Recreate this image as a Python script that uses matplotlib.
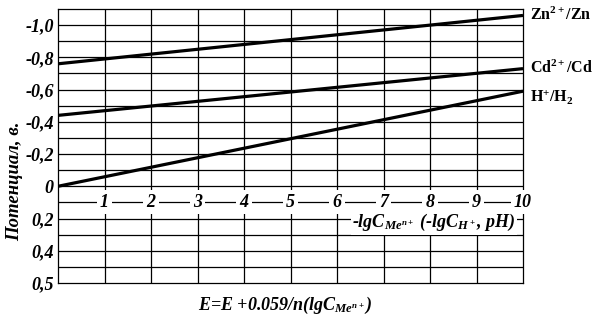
import numpy as np
import matplotlib
matplotlib.use('Agg')
import matplotlib.pyplot as plt

plt.rcParams['font.family'] = ['Liberation Serif', 'DejaVu Serif']
plt.rcParams['mathtext.fontset'] = 'custom'
plt.rcParams['mathtext.rm'] = 'Liberation Serif:bold'
plt.rcParams['mathtext.it'] = 'Liberation Serif:italic:bold'
plt.rcParams['mathtext.bf'] = 'Liberation Serif:bold'

# data
ph = [0, 10]
zn = [-0.76, -1.06]
cd = [-0.44, -0.73]
h2 = [0.0, -0.59]
series_labels = ['Zn$^{2+}$/Zn', 'Cd$^{2+}$/Cd', 'H$^{+}$/H$_{2}$']
x_ticks = [1, 2, 3, 4, 5, 6, 7, 8, 9, 10]
y_ticks = [-1.0, -0.8, -0.6, -0.4, -0.2, 0.0, 0.2, 0.4, 0.6]
y_ticklabels = ['-1,0', '-0,8', '-0,6', '-0,4', '-0,2', '0', '0,2', '0,4', '0,5']

fig = plt.figure(figsize=(5.95, 3.2), dpi=100)
ax = fig.add_axes([58/595, 37/320, 465/595, 274/320])

ax.set_xlim(0, 10)
ax.set_ylim(0.6, -1.1)

# grid
for x in range(1, 10):
    ax.axvline(x, color='black', lw=0.9, zorder=1)
for y in np.arange(-1.0, 0.55, 0.1):
    ax.axhline(y, color='black', lw=0.9, zorder=1)

for ys in (zn, cd, h2):
    ax.plot(ph, ys, color='black', lw=2.3, zorder=3, solid_capstyle='butt')

offsets = [(5, 0), (5, 0), (5, -4)]
for ys, lab, off in zip((zn, cd, h2), series_labels, offsets):
    ax.annotate(lab, xy=(ph[-1], ys[-1]), xytext=off, textcoords='offset points',
                fontsize=11.5, fontweight='bold', va='center', ha='left',
                annotation_clip=False)

# x numbers written on the 0.1 grid line
for xt in x_ticks:
    ax.text(xt, 0.1, str(xt), ha='center', va='center', fontsize=13,
            fontweight='bold', fontstyle='italic', zorder=4,
            bbox=dict(facecolor='white', edgecolor='none', pad=2.5))
ax.text(9.85, 0.225, '-lgC$_{Me^{n+}}$ (-lgC$_{H^+}$, pH)', ha='right', va='center',
        fontsize=13, fontweight='bold', fontstyle='italic', zorder=4,
        bbox=dict(facecolor='white', edgecolor='none', pad=1))

ax.set_xticks([])
ax.set_yticks(y_ticks)
ax.set_yticklabels(y_ticklabels, fontsize=13, fontweight='bold', fontstyle='italic')
ax.tick_params(axis='y', length=0, pad=3)
for s in ax.spines.values():
    s.set_linewidth(0.9)

fig.text(15/595, 1 - 181/320, 'Потенциал, в.', rotation=90, ha='center', va='center',
         fontsize=13.5, fontweight='bold', fontstyle='italic')
fig.text(285/595, 15/320, 'E=E +0.059/n(lgC$_{Me^{n+}}$)', ha='center', va='center',
         fontsize=13, fontweight='bold', fontstyle='italic')

fig.savefig('out.png', dpi=100)
